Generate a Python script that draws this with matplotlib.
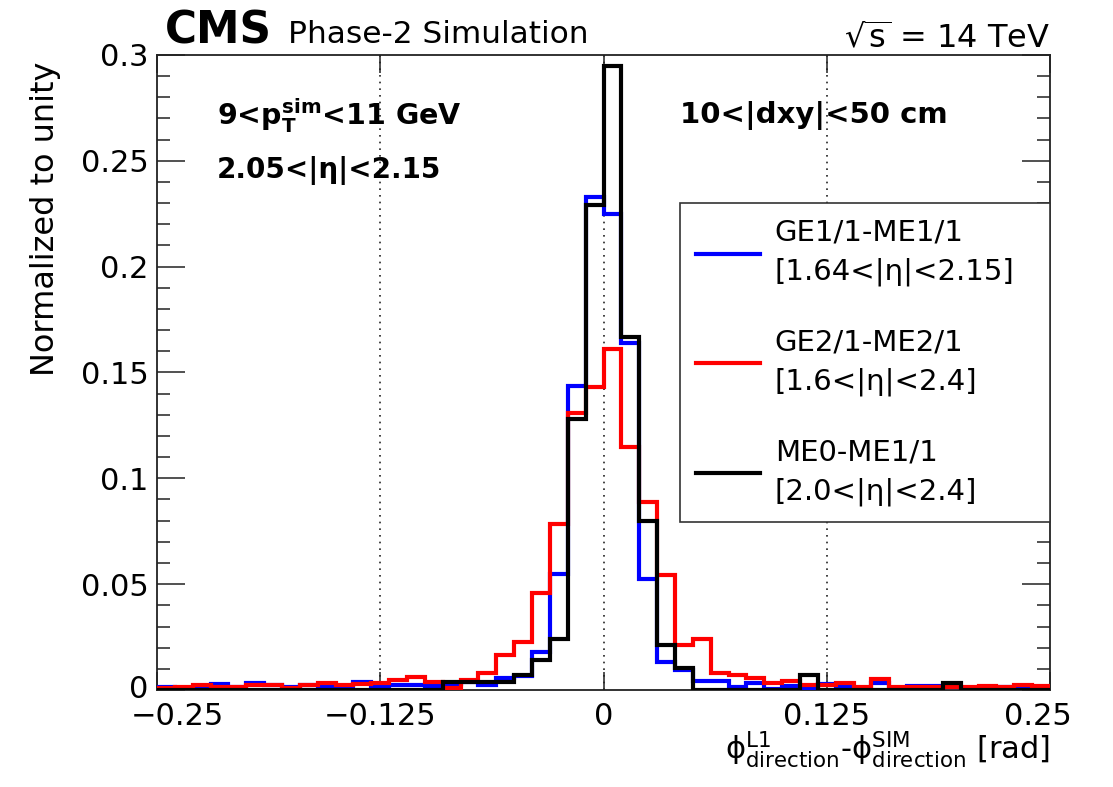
import numpy as np
import matplotlib
matplotlib.use("Agg")
import matplotlib.pyplot as plt
import matplotlib.transforms as mtransforms
from matplotlib.lines import Line2D
from matplotlib.ticker import MultipleLocator, FixedLocator

plt.rcParams['font.family'] = ['DejaVu Sans']
plt.rcParams['mathtext.default'] = 'regular'

# ---- data ----
bin_low = -0.25
bin_width = 0.01
n_bins = 50

blue_vals = [0.0016, 0.0010, 0.0010, 0.0028, 0.0016, 0.0035, 0.0022, 0.0013, 0.0022, 0.0016,
             0.0016, 0.0036, 0.0019, 0.0024, 0.0024, 0.0019, 0.0030, 0.0040, 0.0024, 0.0055,
             0.0068, 0.0180, 0.0547, 0.1435, 0.2327, 0.2250, 0.1640, 0.0524, 0.0134, 0.0095,
             0.0044, 0.0044, 0.0015, 0.0035, 0.0007, 0.0019, 0.0007, 0.0028, 0.0012, 0.0010,
             0.0031, 0.0010, 0.0019, 0.0019, 0.0012, 0.0010, 0.0010, 0.0012, 0.0010, 0.0010]

red_vals = [0.0008, 0.0016, 0.0022, 0.0016, 0.0016, 0.0022, 0.0022, 0.0009, 0.0022, 0.0031,
            0.0022, 0.0028, 0.0035, 0.0047, 0.0060, 0.0039, 0.0008, 0.0047, 0.0078, 0.0165,
            0.0225, 0.0456, 0.0784, 0.1310, 0.1430, 0.1610, 0.1150, 0.0889, 0.0543, 0.0212,
            0.0240, 0.0079, 0.0071, 0.0055, 0.0031, 0.0042, 0.0024, 0.0024, 0.0035, 0.0013,
            0.0050, 0.0012, 0.0015, 0.0015, 0.0012, 0.0012, 0.0020, 0.0012, 0.0025, 0.0019]

black_vals = [0, 0, 0, 0, 0, 0, 0, 0, 0, 0,
              0, 0, 0, 0, 0, 0, 0.0039, 0.0039, 0.0039, 0.0039,
              0.0071, 0.0142, 0.0239, 0.1280, 0.2290, 0.2950, 0.1667, 0.0800, 0.0212, 0.0102,
              0, 0, 0, 0, 0, 0, 0.0071, 0, 0, 0,
              0, 0, 0, 0, 0.0035, 0, 0, 0, 0, 0]

series_names = ["GE1/1-ME1/1\n[1.64<|η|<2.15]",
                "GE2/1-ME2/1\n[1.6<|η|<2.4]",
                "ME0-ME1/1\n[2.0<|η|<2.4]"]
series_colors = ["#0000ff", "#ff0000", "#000000"]

xtick_vals = [-0.25, -0.125, 0, 0.125, 0.25]
xtick_labels = ["\u22120.25", "\u22120.125", "0", "0.125", "0.25"]
ytick_vals = [0, 0.05, 0.1, 0.15, 0.2, 0.25, 0.3]
ytick_labels = ["0", "0.05", "0.1", "0.15", "0.2", "0.25", "0.3"]
grid_x = [-0.125, 0, 0.125]

edges = bin_low + bin_width * np.arange(n_bins + 1)

fig = plt.figure(figsize=(11.13, 7.87), dpi=100)
ax = fig.add_axes([157/1113, 1-690/787, 893/1113, 635/787])

for gx in grid_x:
    ax.axvline(gx, color='#222222', lw=1.2, ls=(0, (1, 3)), zorder=1)

for vals, col in zip([blue_vals, red_vals, black_vals], series_colors):
    ax.stairs(vals, edges, color=col, lw=3.0, baseline=0, zorder=3)

ax.set_xlim(-0.25, 0.25)
ax.set_ylim(0, 0.3)

ax.xaxis.set_major_locator(FixedLocator(xtick_vals))
ax.set_xticklabels(xtick_labels)
ax.yaxis.set_major_locator(FixedLocator(ytick_vals))
ax.set_yticklabels(ytick_labels)
ax.yaxis.set_minor_locator(MultipleLocator(0.01))

ax.tick_params(axis='both', which='both', direction='in', top=True, right=True,
               width=1.1, color='#222222')
ax.tick_params(axis='x', which='major', length=13, labelsize=22, pad=8.5)
ax.tick_params(axis='y', which='major', length=20, labelsize=22, pad=6)
ax.tick_params(axis='y', which='minor', length=9.5)
for sp in ax.spines.values():
    sp.set_linewidth(1.3)
    sp.set_color('#222222')

# shift the outermost x tick labels inward and the y "0" label up, as in the reference
xl = ax.get_xticklabels()
xl[0].set_transform(xl[0].get_transform() + mtransforms.ScaledTranslation(20/100, 0, fig.dpi_scale_trans))
xl[-1].set_transform(xl[-1].get_transform() + mtransforms.ScaledTranslation(-12/100, 0, fig.dpi_scale_trans))
yl = ax.get_yticklabels()
yl[0].set_transform(yl[0].get_transform() + mtransforms.ScaledTranslation(0, 4/100, fig.dpi_scale_trans))

ax.set_ylabel("Normalized to unity", fontsize=23, loc='top')
ax.yaxis.set_label_coords(-0.108, 0.99)
ax.set_xlabel(r"$\phi^{L1}_{direction}$-$\phi^{SIM}_{direction}$ [rad]", fontsize=22, loc='right')
ax.xaxis.set_label_coords(1.0, -0.062)

# header
fig.text(165/1113, 1-43/787, "CMS", fontsize=31.5, fontweight='bold', va='baseline', ha='left')
fig.text(288/1113, 1-43/787, "Phase-2 Simulation", fontsize=22.5, va='baseline', ha='left')
fig.text(1050/1113, 1-48/787, r"$\sqrt{s}$ = 14 TeV", fontsize=23, va='baseline', ha='right')

# annotations
ax.text(0.067, 0.89, r"9<$\mathbf{p}_{\mathbf{T}}^{\mathbf{sim}}$<11 GeV", transform=ax.transAxes,
        fontsize=20.5, fontweight='bold', va='baseline', ha='left')
ax.text(0.067, 0.806, "2.05<|η|<2.15", transform=ax.transAxes,
        fontsize=20, fontweight='bold', va='baseline', ha='left')
ax.text(0.5857, 0.893, "10<|dxy|<50 cm", transform=ax.transAxes,
        fontsize=21, fontweight='bold', va='baseline', ha='left')

handles = [Line2D([], [], color=c, lw=3.0) for c in series_colors]
leg = ax.legend(handles, series_names, loc='upper left', bbox_to_anchor=(0.5857, 0.767, 0.4143, 0.0),
                mode='expand', fontsize=21, frameon=True, fancybox=False, framealpha=1,
                edgecolor='#333333', borderpad=0.55, labelspacing=1.45, handlelength=2.2,
                handletextpad=0.5, borderaxespad=0)
leg.get_frame().set_linewidth(1.2)
for t in leg.get_texts():
    t.set_linespacing(1.5)

fig.savefig("out.png", dpi=100)
